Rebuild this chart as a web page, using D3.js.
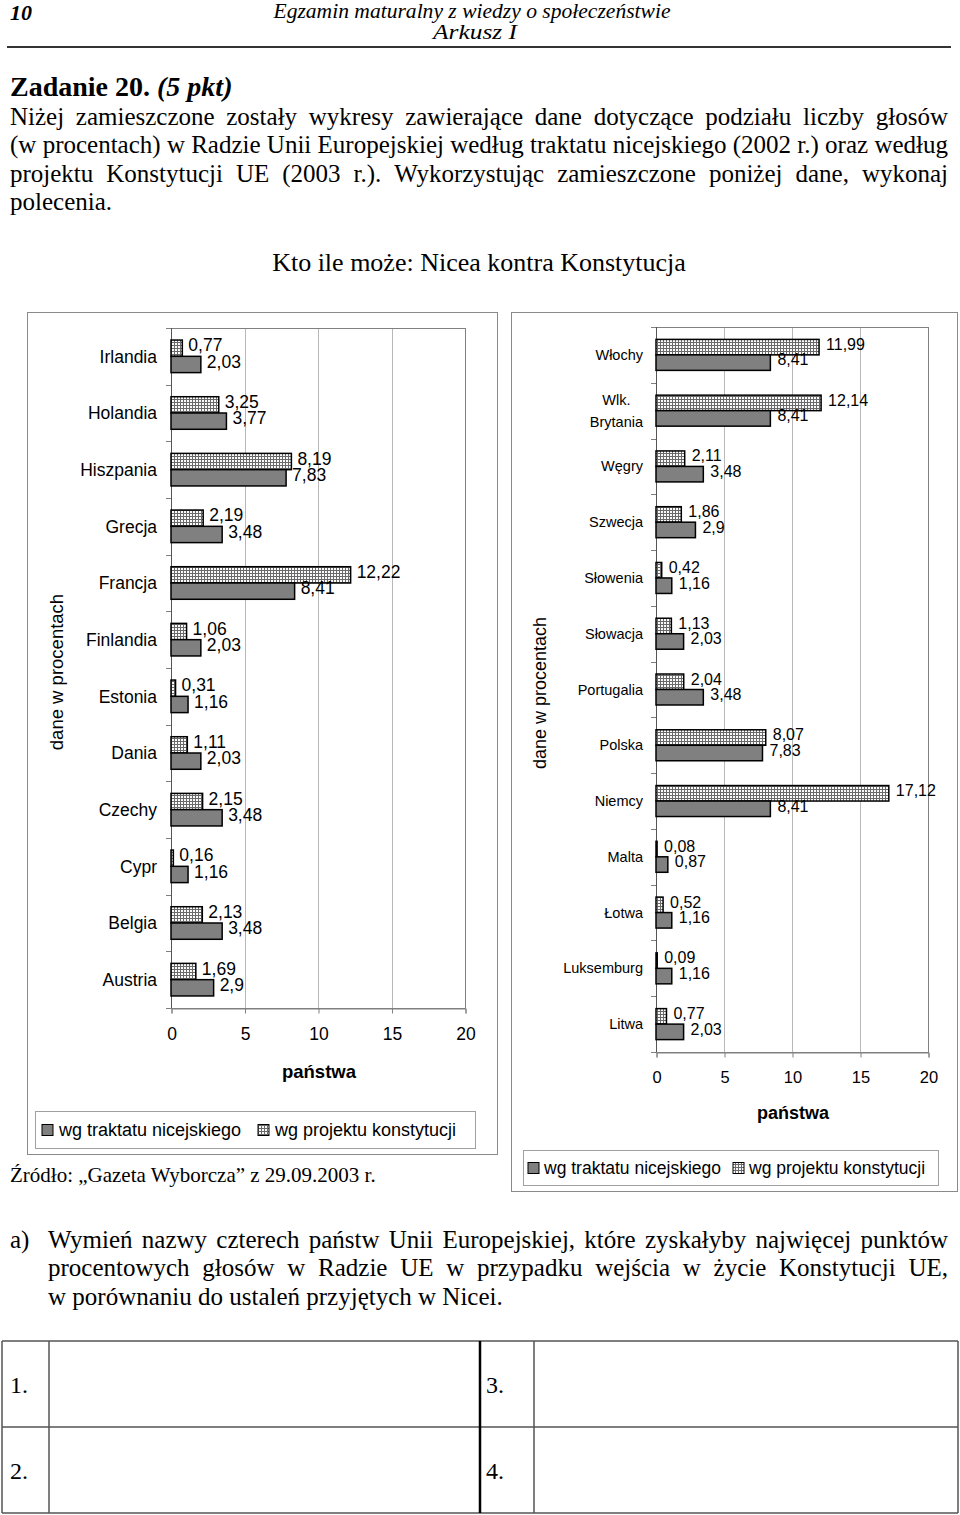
<!DOCTYPE html>
<html><head><meta charset="utf-8">
<script src="https://cdn.jsdelivr.net/npm/d3@7"></script>
<style>
body{margin:0;background:#fff;}
svg{display:block;}
</style></head><body>
<script>
// ---------- DATA ----------
const leftCategories = ["Irlandia","Holandia","Hiszpania","Grecja","Francja","Finlandia","Estonia","Dania","Czechy","Cypr","Belgia","Austria"];
const leftProjekt   = [0.77, 3.25, 8.19, 2.19, 12.22, 1.06, 0.31, 1.11, 2.15, 0.16, 2.13, 1.69];
const leftNicea     = [2.03, 3.77, 7.83, 3.48, 8.41, 2.03, 1.16, 2.03, 3.48, 1.16, 3.48, 2.9];

const rightCategories = ["Włochy","Wlk. Brytania","Węgry","Szwecja","Słowenia","Słowacja","Portugalia","Polska","Niemcy","Malta","Łotwa","Luksemburg","Litwa"];
const rightProjekt  = [11.99, 12.14, 2.11, 1.86, 0.42, 1.13, 2.04, 8.07, 17.12, 0.08, 0.52, 0.09, 0.77];
const rightNicea    = [8.41, 8.41, 3.48, 2.9, 1.16, 2.03, 3.48, 7.83, 8.41, 0.87, 1.16, 1.16, 2.03];

const xTicks = [0, 5, 10, 15, 20];
const seriesNames = ["wg traktatu nicejskiego", "wg projektu konstytucji"];
const axisTitleX = "państwa";
const axisTitleY = "dane w procentach";

// ---------- PAGE ----------
const W = 960, H = 1515;
const SERIF = '"Liberation Serif","Times New Roman",serif';
const SANS = '"Liberation Sans",Arial,sans-serif';
const svg = d3.select("body").append("svg").attr("width", W).attr("height", H);

const defs = svg.append("defs");
const pat = defs.append("pattern").attr("id","chk").attr("width",3).attr("height",3).attr("patternUnits","userSpaceOnUse");
pat.append("rect").attr("width",3).attr("height",3).attr("fill","#fafafa");
pat.append("rect").attr("width",3).attr("height",1).attr("fill","#6a6a6a");
pat.append("rect").attr("width",1).attr("height",3).attr("fill","#6a6a6a");

function txt(s, x, y, o = {}) {
  const t = svg.append("text").attr("x", x).attr("y", y).text(s)
    .attr("font-family", o.family || SERIF).attr("font-size", o.size || 25)
    .attr("fill", "#000");
  if (o.anchor) t.attr("text-anchor", o.anchor);
  if (o.weight) t.attr("font-weight", o.weight);
  if (o.style) t.attr("font-style", o.style);
  if (o.len) t.attr("textLength", o.len).attr("lengthAdjust", "spacingAndGlyphs");
  return t;
}
function justLine(s, x0, x1, y, o = {}) {
  const words = s.split(" ");
  const nodes = words.map(w => txt(w, 0, y, o));
  const widths = nodes.map(n => n.node().getComputedTextLength());
  const total = d3.sum(widths);
  const gap = words.length > 1 ? (x1 - x0 - total) / (words.length - 1) : 0;
  let cx = x0;
  nodes.forEach((n, i) => { n.attr("x", cx); cx += widths[i] + gap; });
}

// header
txt("10", 10, 20, {size: 22, weight: "bold", style: "italic"});
txt("Egzamin maturalny z wiedzy o społeczeństwie", 472, 18, {size: 20, style: "italic", anchor: "middle", len: 397});
txt("Arkusz I", 475, 39, {size: 20, style: "italic", anchor: "middle", len: 84});
svg.append("line").attr("x1", 7).attr("x2", 951).attr("y1", 47).attr("y2", 47).attr("stroke", "#333").attr("stroke-width", 2);

// task text
const zt = svg.append("text").attr("x", 10).attr("y", 96).attr("font-family", SERIF).attr("font-size", 28).attr("font-weight", "bold");
zt.append("tspan").text("Zadanie 20. ");
zt.append("tspan").attr("font-style", "italic").text("(5 pkt)");
justLine("Niżej zamieszczone zostały wykresy zawierające dane dotyczące podziału liczby głosów", 10, 948, 125);
justLine("(w procentach) w Radzie Unii Europejskiej według traktatu nicejskiego (2002 r.) oraz według", 10, 948, 153);
justLine("projektu Konstytucji UE (2003 r.). Wykorzystując zamieszczone poniżej dane, wykonaj", 10, 948, 182);
txt("polecenia.", 10, 210);

txt("Kto ile może: Nicea kontra Konstytucja", 479, 271, {size: 26, anchor: "middle"});

// ---------- CHART ----------
function drawChart(cfg) {
  const g = svg.append("g");
  g.append("rect").attr("x", cfg.box[0] + 0.5).attr("y", cfg.box[1] + 0.5)
    .attr("width", cfg.box[2] - cfg.box[0]).attr("height", cfg.box[3] - cfg.box[1])
    .attr("fill", "none").attr("stroke", "#8a8a8a");

  const x = d3.scaleLinear().domain([xTicks[0], xTicks[xTicks.length - 1]]).range([cfg.px0, cfg.px1]);
  const y = d3.scaleBand().domain(cfg.cats).range([cfg.py0, cfg.py1]);
  const yi = d3.scaleBand().domain(["p", "n"]).range([0, y.bandwidth()]).paddingOuter(cfg.po);

  // grid
  g.selectAll(".grid").data(xTicks.slice(1, -1)).join("line")
    .attr("x1", d => Math.round(x(d)) + 0.5).attr("x2", d => Math.round(x(d)) + 0.5)
    .attr("y1", cfg.py0).attr("y2", cfg.py1).attr("stroke", "#b8b8b8");
  // frame
  g.append("rect").attr("x", cfg.px0 + 0.5).attr("y", cfg.py0 + 0.5)
    .attr("width", cfg.px1 - cfg.px0).attr("height", cfg.py1 - cfg.py0)
    .attr("fill", "none").attr("stroke", "#808080");

  // bottom axis
  const ax = g.append("g").attr("transform", `translate(0.5,${cfg.py1 + 0.5})`)
    .call(d3.axisBottom(x).tickValues(xTicks).tickSize(5).tickPadding(cfg.tickPad).tickFormat(d3.format("d")));
  ax.select(".domain").attr("stroke", "#808080");
  ax.selectAll(".tick line").attr("stroke", "#808080");
  ax.selectAll(".tick text").attr("font-family", SANS).attr("font-size", cfg.tickSize).attr("fill", "#000");

  // left axis (category boundaries)
  const bounds = cfg.cats.map(c => y(c)).concat([cfg.py1]);
  g.append("line").attr("x1", cfg.px0 + 0.5).attr("x2", cfg.px0 + 0.5).attr("y1", cfg.py0).attr("y2", cfg.py1).attr("stroke", "#555");
  g.selectAll(".ytick").data(bounds).join("line")
    .attr("x1", cfg.px0 - 5).attr("x2", cfg.px0).attr("y1", d => Math.round(d) + 0.5).attr("y2", d => Math.round(d) + 0.5)
    .attr("stroke", "#808080");

  const rows = cfg.cats.map((c, i) => ({c, p: cfg.proj[i], n: cfg.nice[i]}));
  // bars
  rows.forEach(r => {
    const yp = y(r.c) + yi("p"), yn = y(r.c) + yi("n"), bh = yi.bandwidth();
    g.append("rect").attr("x", x(0)).attr("y", yp).attr("width", x(r.p) - x(0)).attr("height", bh)
      .attr("fill", "url(#chk)").attr("stroke", "#000").attr("stroke-width", 1.5);
    g.append("rect").attr("x", x(0)).attr("y", yn).attr("width", x(r.n) - x(0)).attr("height", bh)
      .attr("fill", "#808080").attr("stroke", "#000").attr("stroke-width", 1.5);
    const fmt = v => String(v).replace(".", ",");
    g.append("text").attr("x", x(r.p) + cfg.lblOff).attr("y", yp + bh / 2 + cfg.lblDy).text(fmt(r.p))
      .attr("font-family", SANS).attr("font-size", cfg.valSize);
    g.append("text").attr("x", x(r.n) + cfg.lblOff).attr("y", yn + bh / 2 + cfg.lblDy).text(fmt(r.n))
      .attr("font-family", SANS).attr("font-size", cfg.valSize);
  });

  // category labels
  rows.forEach(r => {
    const cy = y(r.c) + y.bandwidth() / 2;
    const parts = r.c === "Wlk. Brytania" ? ["Wlk.", "Brytania"] : [r.c];
    if (parts.length === 1) {
      g.append("text").attr("x", cfg.catX).attr("y", cy + cfg.catDy).attr("text-anchor", "end")
        .attr("font-family", SANS).attr("font-size", cfg.catSize).text(parts[0]);
    } else {
      const t2 = g.append("text").attr("x", cfg.catX).attr("y", cy + 11 + cfg.catDy).attr("text-anchor", "end")
        .attr("font-family", SANS).attr("font-size", cfg.catSize).text(parts[1]);
      const w2 = t2.node().getComputedTextLength();
      g.append("text").attr("x", cfg.catX - w2 / 2).attr("y", cy - 11 + cfg.catDy).attr("text-anchor", "middle")
        .attr("font-family", SANS).attr("font-size", cfg.catSize).text(parts[0]);
    }
  });

  // axis titles
  g.append("text").attr("transform", `translate(${cfg.ytX},${cfg.ytY}) rotate(-90)`).attr("text-anchor", "middle")
    .attr("font-family", SANS).attr("font-size", cfg.ytSize).text(axisTitleY);
  g.append("text").attr("x", cfg.xtX).attr("y", cfg.xtY).attr("text-anchor", "middle")
    .attr("font-family", SANS).attr("font-weight", "bold").attr("font-size", cfg.xtSize).text(axisTitleX);

  // legend
  const L = cfg.leg;
  g.append("rect").attr("x", L.x0 + 0.5).attr("y", L.y0 + 0.5).attr("width", L.x1 - L.x0).attr("height", L.y1 - L.y0)
    .attr("fill", "none").attr("stroke", "#a0a0a0");
  const cy = (L.y0 + L.y1) / 2;
  const fills = ["#808080", "url(#chk)"];
  seriesNames.forEach((s, i) => {
    g.append("rect").attr("x", L.sw[i]).attr("y", cy - 5).attr("width", 11).attr("height", 11)
      .attr("fill", fills[i]).attr("stroke", "#000").attr("stroke-width", 1);
    g.append("text").attr("x", L.tx[i]).attr("y", cy + L.dy).attr("font-family", SANS).attr("font-size", L.size).text(s);
  });
}

drawChart({
  cats: leftCategories, proj: leftProjekt, nice: leftNicea,
  box: [27, 312, 497, 1154],
  px0: 171, px1: 465, py0: 328, py1: 1008, po: 0.74,
  tickPad: 14, tickSize: 17.5,
  lblOff: 6, lblDy: 3.3, valSize: 17.5,
  catX: 157, catDy: 6.3, catSize: 17.5,
  ytX: 63, ytY: 672, ytSize: 18.5,
  xtX: 319, xtY: 1078, xtSize: 18.5,
  leg: {x0: 35, x1: 475, y0: 1111, y1: 1148, sw: [42, 258], tx: [59, 275], dy: 6, size: 18}
});

drawChart({
  cats: rightCategories, proj: rightProjekt, nice: rightNicea,
  box: [511, 312, 957, 1191],
  px0: 656, px1: 928, py0: 327, py1: 1052, po: 0.8,
  tickPad: 14, tickSize: 16.5,
  lblOff: 7, lblDy: 2.8, valSize: 16,
  catX: 643, catDy: 5, catSize: 14.5,
  ytX: 546, ytY: 693, ytSize: 18,
  xtX: 793, xtY: 1119, xtSize: 18,
  leg: {x0: 523, x1: 938, y0: 1150, y1: 1185, sw: [528, 733], tx: [544, 749], dy: 6, size: 17.5}
});

// source
txt("Źródło: „Gazeta Wyborcza” z 29.09.2003 r.", 10, 1182, {size: 21});

// question
txt("a)", 10, 1248);
justLine("Wymień nazwy czterech państw Unii Europejskiej, które zyskałyby najwięcej punktów", 48, 948, 1248);
justLine("procentowych głosów w Radzie UE w przypadku wejścia w życie Konstytucji UE,", 48, 948, 1276);
txt("w porównaniu do ustaleń przyjętych w Nicei.", 48, 1305);

// answer table
const tbl = svg.append("g").attr("stroke", "#555").attr("fill", "none");
const tRows = [1341, 1427, 1513];
const tCols = [2, 49, 480, 534, 958];
tRows.forEach(yy => tbl.append("line").attr("x1", tCols[0]).attr("x2", tCols[4]).attr("y1", yy).attr("y2", yy).attr("stroke-width", 1.5));
tCols.forEach((xx, i) => tbl.append("line").attr("x1", xx).attr("x2", xx).attr("y1", tRows[0]).attr("y2", tRows[2])
  .attr("stroke-width", i === 2 ? 2.5 : 1.5).attr("stroke", i === 2 ? "#000" : "#555"));
const tLabels = ["1.", "2.", "3.", "4."];
tLabels.forEach((s, i) => txt(s, i < 2 ? 10 : 486, (i % 2 === 0 ? 1393 : 1479), {size: 24}));
</script></body></html>
